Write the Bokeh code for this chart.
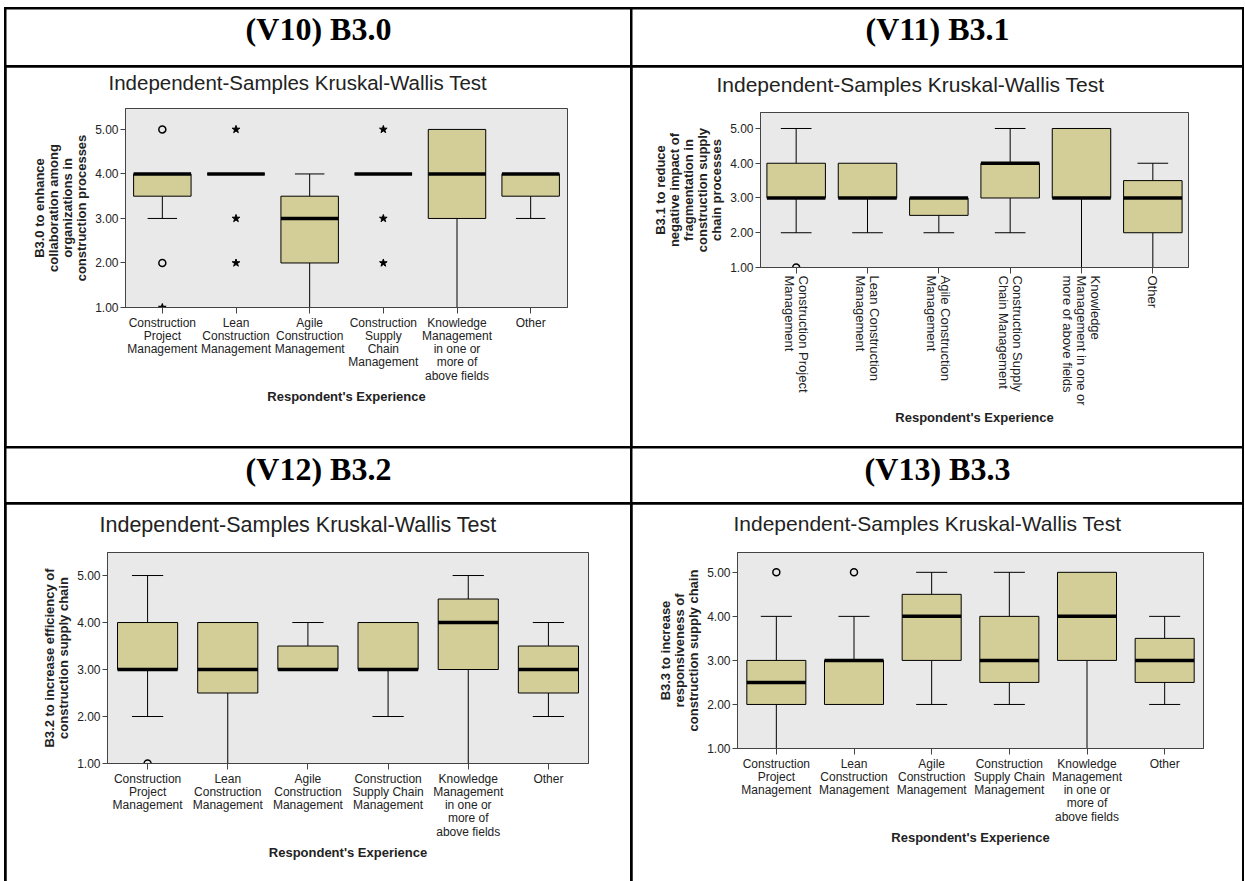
import math
from bokeh.plotting import figure
from bokeh.models import FactorRange, Range1d, FixedTicker, PrintfTickFormatter, ColumnDataSource
from bokeh.transform import dodge
from bokeh.layouts import column, row
from bokeh.embed import file_html
from bokeh.resources import INLINE
from bokeh.core.properties import value

# ---------------- data ----------------
categories = [
    "Construction Project Management",
    "Lean Construction Management",
    "Agile Construction Management",
    "Construction Supply Chain Management",
    "Knowledge Management in one or more of above fields",
    "Other",
]
labels_b30 = ["Construction\nProject\nManagement", "Lean\nConstruction\nManagement",
              "Agile\nConstruction\nManagement", "Construction\nSupply\nChain\nManagement",
              "Knowledge\nManagement\nin one or\nmore of\nabove fields", "Other"]
labels_b31 = ["Construction Project\nManagement", "Lean Construction\nManagement",
              "Agile Construction\nManagement", "Construction Supply\nChain Management",
              "Knowledge\nManagement in one or\nmore of above fields", "Other"]
labels_b32 = ["Construction\nProject\nManagement", "Lean\nConstruction\nManagement",
              "Agile\nConstruction\nManagement", "Construction\nSupply Chain\nManagement",
              "Knowledge\nManagement\nin one or\nmore of\nabove fields", "Other"]
labels_b33 = list(labels_b32)

y_ticks = [1.0, 2.0, 3.0, 4.0, 5.0]

# (V10) B3.0
b30_q1 = [3.5, 4.0, 2.0, 4.0, 3.0, 3.5]
b30_median = [4.0, 4.0, 3.0, 4.0, 4.0, 4.0]
b30_q3 = [4.0, 4.0, 3.5, 4.0, 5.0, 4.0]
b30_low = [3.0, 4.0, 1.0, 4.0, 1.0, 3.0]
b30_high = [4.0, 4.0, 4.0, 4.0, 5.0, 4.0]
b30_outlier_idx = [0, 0]
b30_outlier_val = [5.0, 2.0]
b30_extreme_idx = [0, 1, 1, 1, 3, 3, 3]
b30_extreme_val = [1.0, 5.0, 3.0, 2.0, 5.0, 3.0, 2.0]

# (V11) B3.1
b31_q1 = [3.0, 3.0, 2.5, 3.0, 3.0, 2.0]
b31_median = [3.0, 3.0, 3.0, 4.0, 3.0, 3.0]
b31_q3 = [4.0, 4.0, 3.0, 4.0, 5.0, 3.5]
b31_low = [2.0, 2.0, 2.0, 2.0, 1.0, 1.0]
b31_high = [5.0, 4.0, 3.0, 5.0, 5.0, 4.0]
b31_outlier_idx = [0]
b31_outlier_val = [1.0]
b31_extreme_idx = []
b31_extreme_val = []

# (V12) B3.2
b32_q1 = [3.0, 2.5, 3.0, 3.0, 3.0, 2.5]
b32_median = [3.0, 3.0, 3.0, 3.0, 4.0, 3.0]
b32_q3 = [4.0, 4.0, 3.5, 4.0, 4.5, 3.5]
b32_low = [2.0, 1.0, 3.0, 2.0, 1.0, 2.0]
b32_high = [5.0, 4.0, 4.0, 4.0, 5.0, 4.0]
b32_outlier_idx = [0]
b32_outlier_val = [1.0]
b32_extreme_idx = []
b32_extreme_val = []

# (V13) B3.3
b33_q1 = [2.0, 2.0, 3.0, 2.5, 3.0, 2.5]
b33_median = [2.5, 3.0, 4.0, 3.0, 4.0, 3.0]
b33_q3 = [3.0, 3.0, 4.5, 4.0, 5.0, 3.5]
b33_low = [1.0, 2.0, 2.0, 2.0, 1.0, 2.0]
b33_high = [4.0, 4.0, 5.0, 5.0, 5.0, 4.0]
b33_outlier_idx = [0, 1]
b33_outlier_val = [5.0, 5.0]
b33_extreme_idx = []
b33_extreme_val = []

# ---------------- style ----------------
BG = "#E9E9E9"
BOX = "#D3CE97"
FRAME = "#444444"
TXT = "#222222"
SANS = "Liberation Sans"
TITLE = "Independent-Samples Kruskal-Wallis Test"


def make_header(text, width, height, y_from_top):
    p = figure(width=width, height=height, x_range=Range1d(0, width), y_range=Range1d(0, height),
               toolbar_location=None, output_backend="svg", x_axis_location=None,
               y_axis_location=None, min_border=0, outline_line_color=None,
               background_fill_color="white", border_fill_color="white")
    p.grid.visible = False
    p.text(x=[width / 2], y=[height - y_from_top], text=[text], text_align="center",
           text_baseline="middle", text_font=value("Liberation Serif"), text_font_style="bold",
           text_font_size="32px", text_color="black")
    return p


def make_chart(labels, q1, med, q3, lo, hi, out_i, out_v, ext_i, ext_v, ylabel, y_top,
               width, height, borders, title_offset, title_size, title_standoff, title_lh,
               rotated=False, box_w=0.78, cap_w=0.4, xlabel_standoff=3):
    p = figure(width=width, height=height, x_range=FactorRange(factors=labels),
               y_range=Range1d(1.0, y_top), toolbar_location=None, output_backend="svg",
               min_border_left=borders[0], min_border_right=borders[1],
               min_border_top=borders[2], min_border_bottom=borders[3],
               background_fill_color=BG, border_fill_color="white",
               outline_line_color=FRAME, outline_line_width=1, frame_align=False)
    # trailing empty line with a tight line height lifts the title above the frame
    p.title.text = TITLE + "\n"
    p.title.text_line_height = title_lh
    p.title.align = "left"
    p.title.vertical_align = "bottom"
    p.title.offset = title_offset
    p.title.text_font = SANS
    p.title.text_font_size = title_size
    p.title.text_font_style = "normal"
    p.title.text_color = TXT
    p.title.standoff = title_standoff
    p.xgrid.visible = False
    p.ygrid.visible = False

    n = len(labels)
    up = [i for i in range(n) if hi[i] > q3[i]]
    dn = [i for i in range(n) if lo[i] < q1[i]]
    wsrc = ColumnDataSource(dict(
        x=[labels[i] for i in up] + [labels[i] for i in dn],
        y0=[q3[i] for i in up] + [q1[i] for i in dn],
        y1=[hi[i] for i in up] + [lo[i] for i in dn]))
    p.segment(x0="x", y0="y0", x1="x", y1="y1", source=wsrc, line_color="black", line_width=1)
    p.segment(x0=dodge("x", -cap_w / 2, range=p.x_range), y0="y1",
              x1=dodge("x", cap_w / 2, range=p.x_range), y1="y1", source=wsrc,
              line_color="black", line_width=1)

    src = ColumnDataSource(dict(x=labels, q1=q1, med=med, q3=q3))
    p.vbar(x="x", bottom="q1", top="q3", width=box_w, source=src, fill_color=BOX,
           line_color="black", line_width=1)
    p.rect(x="x", y="med", width=box_w, height=3.5, height_units="screen", source=src,
           fill_color="black", line_color=None)

    if out_i:
        p.scatter(x=[labels[i] for i in out_i], y=out_v, marker="circle", size=7,
                  fill_color=None, line_color="black", line_width=1.5)
    if ext_i:
        p.scatter(x=[labels[i] for i in ext_i], y=ext_v, marker="star", size=8,
                  fill_color="black", line_color="black")

    ya = p.yaxis[0]
    ya.ticker = FixedTicker(ticks=y_ticks)
    ya.formatter = PrintfTickFormatter(format="%.2f")
    ya.minor_tick_line_color = None
    ya.major_tick_out = 5
    ya.major_tick_in = 0
    ya.axis_line_color = FRAME
    ya.major_tick_line_color = FRAME
    ya.major_label_text_font = SANS
    ya.major_label_text_font_size = "12px"
    ya.major_label_text_color = TXT
    ya.major_label_standoff = 2
    ya.axis_label = ylabel
    ya.axis_label_text_font = SANS
    ya.axis_label_text_font_style = "bold"
    ya.axis_label_text_font_size = "13px"
    ya.axis_label_text_line_height = 0.93
    ya.axis_label_text_color = TXT
    ya.axis_label_standoff = 3

    xa = p.xaxis[0]
    xa.axis_line_color = FRAME
    xa.major_tick_line_color = FRAME
    xa.major_tick_out = 6
    xa.major_tick_in = 0
    xa.minor_tick_line_color = None
    xa.major_label_text_font = SANS
    xa.major_label_text_font_size = "13px" if rotated else "12px"
    xa.major_label_text_color = TXT
    xa.major_label_text_line_height = 0.95
    xa.major_label_standoff = 2
    if rotated:
        xa.major_label_orientation = -math.pi / 2
    xa.axis_label = "Respondent's Experience"
    xa.axis_label_text_font = SANS
    xa.axis_label_text_font_style = "bold"
    xa.axis_label_text_font_size = "13px"
    xa.axis_label_text_color = TXT
    xa.axis_label_standoff = xlabel_standoff
    return p


LEFT_W, RIGHT_W = 624, 610

h1 = make_header("(V10) B3.0", LEFT_W, 56, 19)
h2 = make_header("(V11) B3.1", RIGHT_W, 56, 19)
h3 = make_header("(V12) B3.2", LEFT_W, 54, 20)
h4 = make_header("(V13) B3.3", RIGHT_W, 54, 20)

c1 = make_chart(labels_b30, b30_q1, b30_median, b30_q3, b30_low, b30_high,
                b30_outlier_idx, b30_outlier_val, b30_extreme_idx, b30_extreme_val,
                "B3.0 to enhance\ncollaboration among\norganizations in\nconstruction processes",
                5.47, LEFT_W, 379, (119, 63, 41, 139), -17, "20.5px", 3, 0.56)
c2 = make_chart(labels_b31, b31_q1, b31_median, b31_q3, b31_low, b31_high,
                b31_outlier_idx, b31_outlier_val, b31_extreme_idx, b31_extreme_val,
                "B3.1 to reduce\nnegative impact of\nfragmentation in\nconstruction supply\nchain processes",
                5.46, RIGHT_W, 379, (128, 54, 45, 179), -44, "21px", 5, 0.62, rotated=True,
                box_w=0.82, cap_w=0.43, xlabel_standoff=1)
c3 = make_chart(labels_b32, b32_q1, b32_median, b32_q3, b32_low, b32_high,
                b32_outlier_idx, b32_outlier_val, b32_extreme_idx, b32_extreme_val,
                "B3.2 to increase efficiency of\nconstruction supply chain",
                5.49, LEFT_W, 377, (101, 42, 48, 118), -8, "21.5px", 8, 0.5,
                box_w=0.75, cap_w=0.39)
c4 = make_chart(labels_b33, b33_q1, b33_median, b33_q3, b33_low, b33_high,
                b33_outlier_idx, b33_outlier_val, b33_extreme_idx, b33_extreme_val,
                "B3.3 to increase\nresponsiveness of\nconstruction supply chain",
                5.45, RIGHT_W, 377, (105, 39, 48, 133), -4, "21px", 7, 0.62,
                box_w=0.76, cap_w=0.4)

table = column(
    row(h1, h2, spacing=2),
    row(c1, c2, spacing=2),
    row(h3, h4, spacing=2),
    row(c3, c4, spacing=2),
    spacing=2,
    styles={"background-color": "black", "padding": "2px 2px 0px 2px"},
)
page = column(table, styles={"padding": "7px 0px 0px 4px", "background-color": "white"})

open("out.html", "w").write(file_html(page, INLINE))
